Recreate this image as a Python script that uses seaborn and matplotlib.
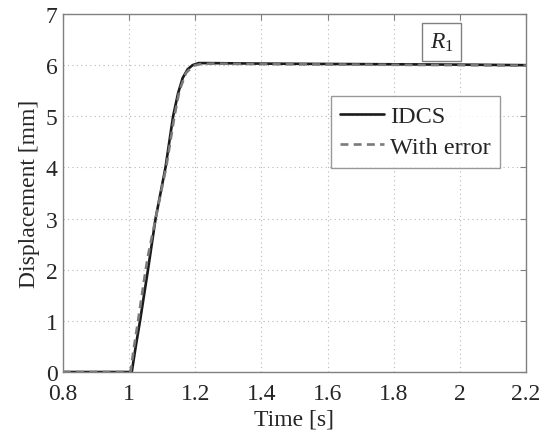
import pandas as pd
import numpy as np
import matplotlib
matplotlib.use("Agg")
import matplotlib.pyplot as plt
import seaborn as sns

# IDCS response
idcs_time = [0.8, 1.0, 1.008, 1.02, 1.033, 1.057, 1.08, 1.11, 1.133, 1.148, 1.162,
             1.177, 1.192, 1.21, 1.24, 1.4, 1.7, 2.0, 2.2]
idcs_disp = [0.0, 0.0, 0.0, 0.5, 1.0, 2.0, 3.0, 4.0, 5.0, 5.45, 5.75,
             5.92, 6.0, 6.04, 6.04, 6.03, 6.02, 6.01, 6.0]

# response with error
err_time = [0.8, 1.0, 1.004, 1.015, 1.027, 1.05, 1.058, 1.08, 1.112, 1.137, 1.152,
            1.172, 1.195, 1.215, 1.25, 1.4, 1.7, 2.0, 2.2]
err_disp = [0.0, 0.0, 0.0, 0.5, 1.0, 2.0, 2.3, 3.0, 4.0, 5.0, 5.5,
            5.85, 5.99, 6.02, 6.03, 6.02, 6.01, 6.0, 5.99]

x_ticks = [0.8, 1, 1.2, 1.4, 1.6, 1.8, 2, 2.2]
x_labels = ["0.8", "1", "1.2", "1.4", "1.6", "1.8", "2", "2.2"]
y_ticks = [0, 1, 2, 3, 4, 5, 6, 7]

sns.set_style("white")
plt.rcParams['font.family'] = ['Liberation Serif', 'DejaVu Serif']
plt.rcParams['mathtext.fontset'] = 'custom'
plt.rcParams['mathtext.it'] = 'Liberation Serif:italic'
plt.rcParams['mathtext.rm'] = 'Liberation Serif'

fig = plt.figure(figsize=(5.51, 4.35), dpi=100)
ax = fig.add_axes([0.1143, 0.1425, 0.8403, 0.823])

df_idcs = pd.DataFrame({"t": idcs_time, "d": idcs_disp})
df_err = pd.DataFrame({"t": err_time, "d": err_disp})

sns.lineplot(data=df_idcs, x="t", y="d", ax=ax, color="#1a1a1a", linewidth=1.9,
             label="IDCS", sort=False)
sns.lineplot(data=df_err, x="t", y="d", ax=ax, color="#7a7a7a", linewidth=1.9,
             label="With error", sort=False)
ax.lines[1].set_dashes((3.0, 2.0))

ax.set_xlim(0.8, 2.2)
ax.set_ylim(0, 7)
ax.set_xticks(x_ticks)
ax.set_xticklabels(x_labels)
ax.set_yticks(y_ticks)
ax.grid(True, linestyle=(0, (1, 3)), color="#b8b8b8", linewidth=0.8)
ax.tick_params(direction="in", top=True, right=True, length=4, color="#808080",
               labelsize=17)
ax.tick_params(axis="x", pad=8)
ax.tick_params(axis="y", pad=4)
for s in ax.spines.values():
    s.set_color("#808080")
    s.set_linewidth(1.0)

ax.set_xlabel("Time [s]", fontsize=17, labelpad=3)
ax.set_ylabel("Displacement [mm]", fontsize=17, labelpad=4)

leg = ax.legend(loc="upper left", bbox_to_anchor=(0.578, 0.772), fontsize=17.5,
                frameon=True, fancybox=False, handlelength=1.8, handletextpad=0.25,
                borderpad=0.4, labelspacing=0.35, borderaxespad=0)
leg.get_frame().set_edgecolor("#808080")
leg.get_frame().set_linewidth(1.0)

ax.text(1.945, 6.45, r"$R_{\mathrm{1}}$", fontsize=17, ha="center", va="center",
        bbox=dict(boxstyle="square,pad=0.32", fc="white", ec="#808080", lw=1.0))

fig.savefig("out.png", dpi=100)
